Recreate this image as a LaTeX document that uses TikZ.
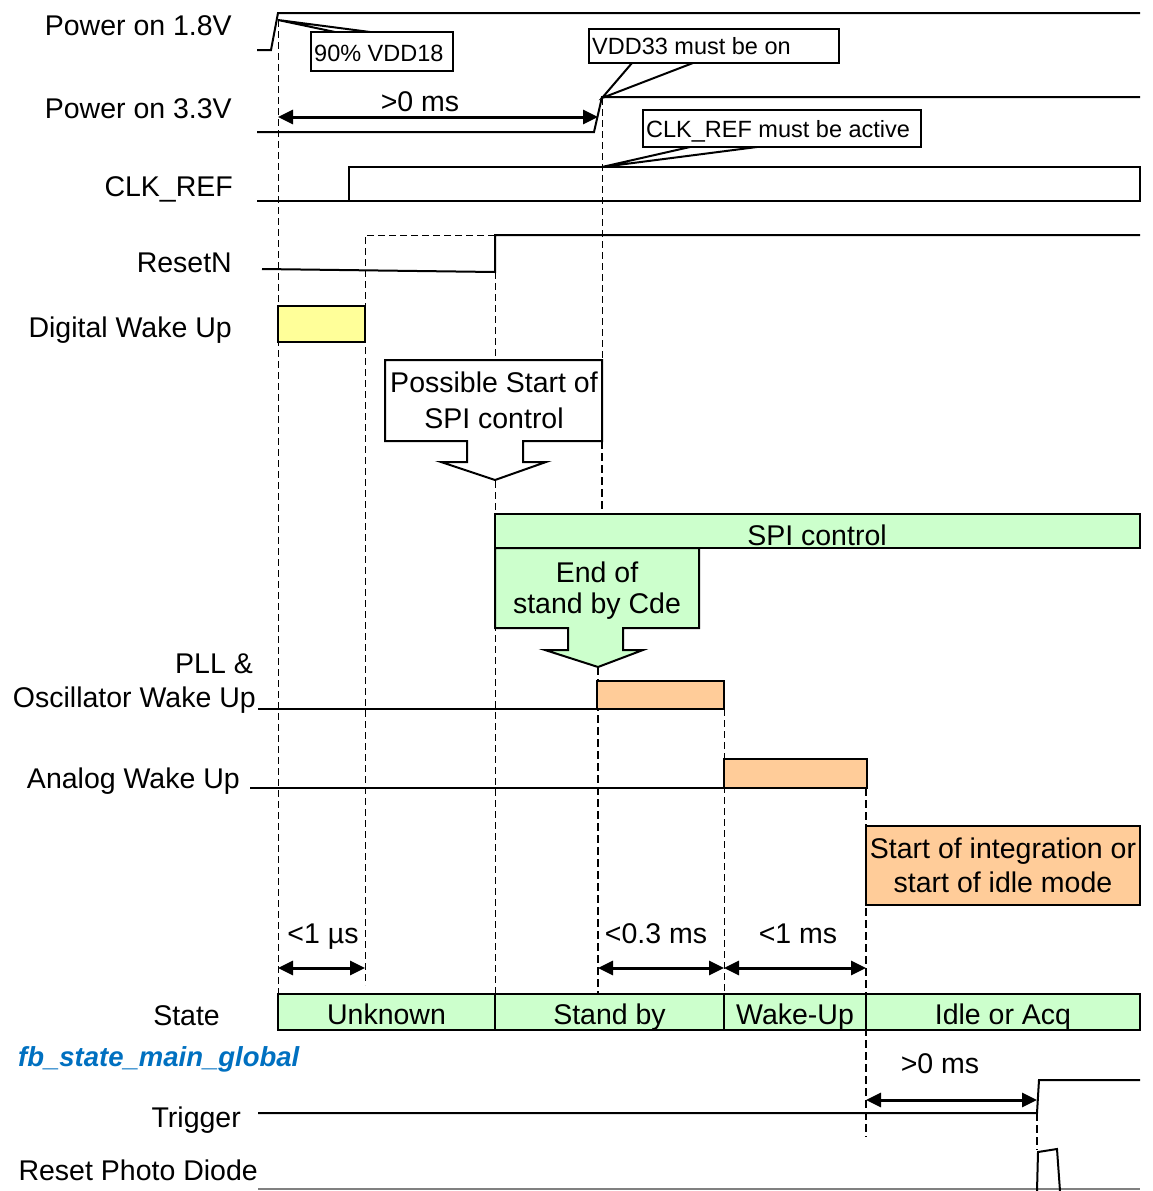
\documentclass[tikz,border=0pt]{standalone}
\usepackage{fontspec}
\setmainfont{Liberation Sans}
\usetikzlibrary{arrows.meta}
\definecolor{spigreen}{RGB}{204,255,204}
\definecolor{wakeorange}{RGB}{255,204,153}
\definecolor{digyellow}{RGB}{255,255,153}
\definecolor{fbblue}{RGB}{0,112,192}
\begin{document}
\begin{tikzpicture}[x=1pt,y=-1pt,
  sig/.style={line width=2pt},
  guide/.style={line width=0.9pt,dash pattern=on 7pt off 4pt},
  bguide/.style={line width=2.6pt,dash pattern=on 8pt off 4pt},
  lbl/.style={font=\fontsize{28.5}{32}\selectfont,inner sep=0pt},
  note/.style={font=\fontsize{23.5}{27}\selectfont,inner sep=0pt},
  dur/.style={line width=3pt,{Triangle[length=15pt,width=14pt]}-{Triangle[length=15pt,width=14pt]}}]
\useasboundingbox (0,0) rectangle (1152,1191);

\node[lbl,anchor=base east] (p18) at (232,35) {Power on 1.8V};
\node[lbl,anchor=base east] (p33) at (232,118) {Power on 3.3V};
\node[lbl,anchor=base east] (clk) at (233,196) {CLK\_REF};
\node[lbl,anchor=base east] (rst) at (232,272) {ResetN};
\node[lbl,anchor=base east] (dwu) at (232,337) {Digital Wake Up};
\node[lbl,anchor=base east] (pll) at (253,673) {PLL \&};
\node[lbl,anchor=base east] (osc) at (256,707) {Oscillator Wake Up};
\node[lbl,anchor=base east] (awu) at (240,788) {Analog Wake Up};
\node[lbl,anchor=base east] (state) at (220,1025) {State};
\node[lbl,anchor=base west,font=\fontsize{27.5}{32}\selectfont\bfseries\itshape,text=fbblue] (fb) at (18,1066) {fb\_state\_main\_global};
\node[lbl,anchor=base east] (trg) at (241,1127) {Trigger};
\node[lbl,anchor=base east] (rpd) at (258,1180) {Reset Photo Diode};

\draw[guide] (278,20) -- (278,994);
\draw[guide] (495,235) -- (365,235) -- (365,985);
\draw[guide] (495,272) -- (495,994);
\draw[guide] (602,98) -- (602,360);
\draw[guide] (724,709) -- (724,994);

\draw[sig] (257,50) -- (271,50) -- (278,13) -- (1140,13);
\draw[sig] (257,132) -- (594,132) -- (602,97) -- (1140,97);
\draw[sig] (257,201) -- (1140,201) -- (1140,167) -- (349,167) -- (349,201);
\draw[sig] (262,269) -- (495,272) -- (495,235) -- (1140,235);
\draw[sig,fill=digyellow] (278,306) rectangle (365,342);

\draw[sig] (278,20) -- (335,32) (278,20) -- (370,32);
\draw[sig,fill=white] (311,32) rectangle (453,71);
\node[note,anchor=base west] (n18) at (314,61) {90\% VDD18};
\draw[sig,fill=white] (589,29) rectangle (839,63);
\node[note,anchor=base west] (n33) at (592,54) {VDD33 must be on};
\draw[sig] (632,63) -- (602,98) -- (693,63);
\draw[sig,fill=white] (643,110) rectangle (921,147);
\node[note,anchor=base west] (nclk) at (646,137) {CLK\_REF must be active};
\draw[sig] (690,147) -- (602,167) -- (757,147);

\coordinate (up0) at (278,117);
\coordinate (up1) at (598,117);
\draw[dur] (up0) -- (up1);
\node[lbl,anchor=base] (gt1) at (420,111) {>0 ms};

\draw[sig,fill=white] (385,360) -- (602,360) -- (602,441) -- (523,441) -- (523,462) -- (546,462)
  -- (495,480) -- (441,462) -- (467,462) -- (467,441) -- (385,441) -- cycle;
\node[lbl,anchor=base] (pss1) at (494,392) {Possible Start of};
\node[lbl,anchor=base] (pss2) at (494,428) {SPI control};
\draw[bguide] (602,441) -- (602,514);

\draw[sig,fill=spigreen] (495,514) rectangle (1140,548);
\node[lbl,anchor=base] (spi) at (817,545) {SPI control};
\draw[sig,fill=spigreen] (495,548) -- (699,548) -- (699,628) -- (623,628) -- (623,650) -- (643,650)
  -- (598,667) -- (545,650) -- (568,650) -- (568,628) -- (495,628) -- cycle;
\node[lbl,anchor=base] (eos1) at (597,582) {End of};
\node[lbl,anchor=base] (eos2) at (597,613) {stand by Cde};

\draw[bguide] (598,667) -- (598,994);
\draw[sig] (258,709) -- (597,709);
\draw[sig,fill=wakeorange] (597,681) rectangle (724,709);
\draw[sig] (250,788) -- (724,788);
\draw[sig,fill=wakeorange] (724,759) rectangle (867,788);
\draw[bguide] (866,788) -- (866,1137);
\draw[sig,fill=wakeorange] (866,826) rectangle (1140,905);
\node[lbl,anchor=base] (si1) at (1003,858) {Start of integration or};
\node[lbl,anchor=base] (si2) at (1003,892) {start of idle mode};

\coordinate (a0) at (278,968);
\coordinate (a1) at (365,968);
\coordinate (a2) at (598,968);
\coordinate (a3) at (724,968);
\coordinate (a4) at (866,968);
\draw[dur] (a0) -- (a1);
\draw[dur] (a2) -- (a3);
\draw[dur] (a3) -- (a4);
\node[lbl,anchor=base] (d1) at (323,943) {<1 µs};
\node[lbl,anchor=base] (d2) at (656,943) {<0.3 ms};
\node[lbl,anchor=base] (d3) at (798,943) {<1 ms};

\foreach \xa/\xb/\nm [count=\i] in {278/495/Unknown,495/724/Stand by,724/866/Wake-Up,866/1140/Idle or Acq} {
  \draw[sig,fill=spigreen] (\xa,994) rectangle (\xb,1030);
  \node[lbl,anchor=base] (st\i) at ({(\xa+\xb)/2},1024) {\nm};
}

\coordinate (tg0) at (866,1100);
\coordinate (tg1) at (1037,1100);
\draw[dur] (tg0) -- (tg1);
\node[lbl,anchor=base] (gt2) at (940,1073) {>0 ms};
\draw[sig] (258,1113) -- (1037,1113) -- (1039,1080) -- (1140,1080);
\draw[bguide] (1037,1113) -- (1037,1150);

\draw[line width=1.2pt,gray] (258,1189) -- (1140,1189);
\draw[sig] (1037,1191) -- (1038,1152) -- (1057,1149) -- (1060,1191);
\end{tikzpicture}
\end{document}
